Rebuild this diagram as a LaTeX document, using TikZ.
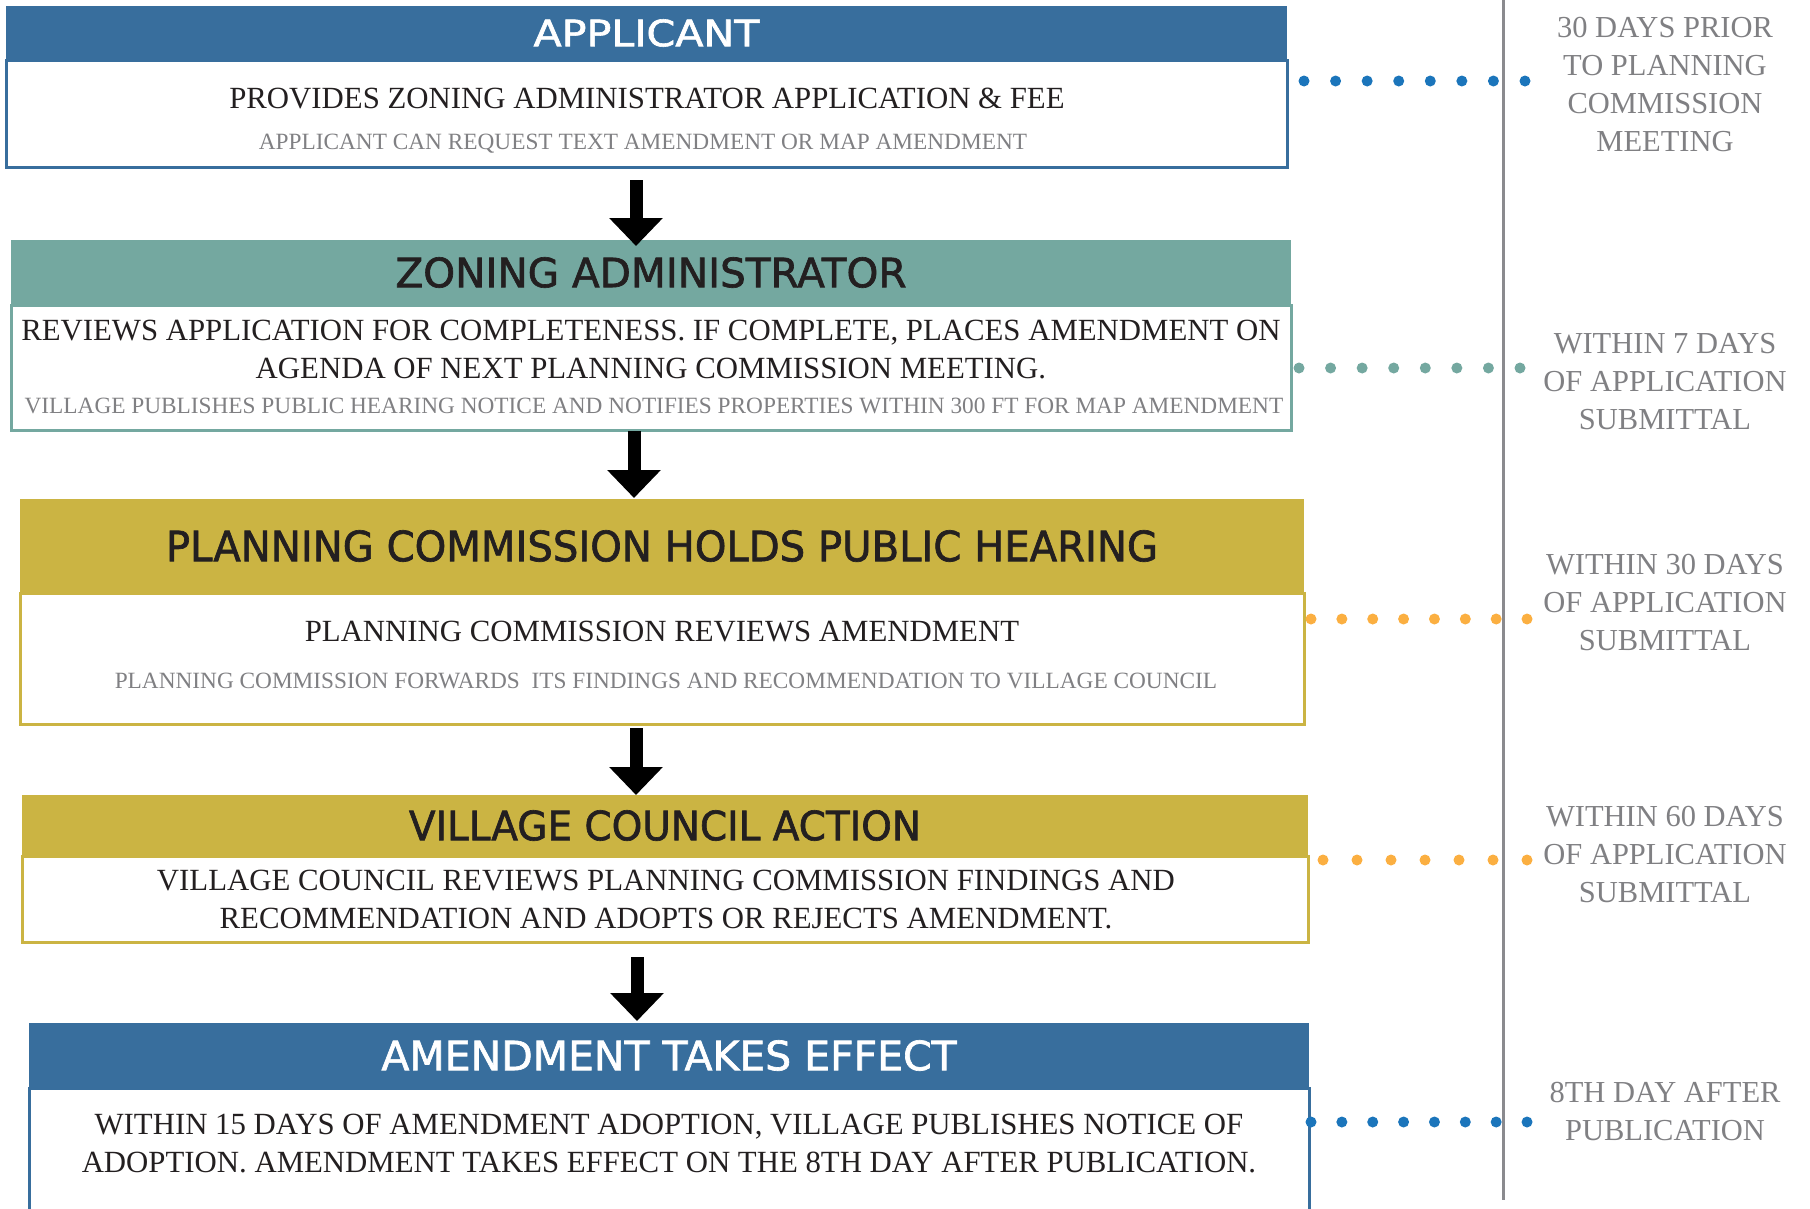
\documentclass[tikz,border=0pt]{standalone}
\usepackage{fontspec}
\setmainfont{Liberation Serif}
\newfontfamily\hdrfont[FakeBold=1.6]{DejaVu Sans}
\usetikzlibrary{arrows.meta,calc}
\definecolor{hblue}{HTML}{386E9D}
\definecolor{hteal}{HTML}{74A8A0}
\definecolor{hgold}{HTML}{CBB443}
\definecolor{dblue}{HTML}{1B75BB}
\definecolor{dorange}{HTML}{FBAF41}
\definecolor{txtdark}{HTML}{231F20}
\definecolor{txtgray}{HTML}{808083}
\definecolor{tlgray}{HTML}{8A8A8E}
\begin{document}
\begin{tikzpicture}[x=1pt,y=-1pt,
  hdrbox/.style={inner sep=0pt, outer sep=0pt, anchor=north west},
  bodybox/.style={draw, line width=3pt, fill=white, inner sep=0pt, outer sep=0pt, anchor=north west},
  maintext/.style={font=\fontsize{30.8}{38}\selectfont, text=txtdark, inner sep=0pt, align=center, text depth=0pt},
  subtext/.style={font=\fontsize{23.3}{28}\selectfont, text=txtgray, inner sep=0pt, text depth=0pt},
  sidetext/.style={font=\fontsize{30.5}{38}\selectfont, text=txtgray, inner sep=0pt, align=center, text depth=0pt},
  bigarrow/.style={line width=13pt, -{Triangle[width=52pt,length=28pt]}},
  dotrow/.style={line width=11pt, line cap=round, dash pattern=on 0pt off #1},
  timeline/.style={draw=tlgray, line width=3pt}
]
\useasboundingbox (0,0) rectangle (1810,1208);
\clip (0,0) rectangle (1810,1208);

% timeline
\coordinate (tltop) at (1503,0);
\coordinate (tlbot) at (1503,1200);
\draw[timeline] (tltop) -- (tlbot);

% APPLICANT
\node[bodybox, draw=hblue, minimum width=1281pt, minimum height=107pt] (appbody) at (6,60) {};
\node[hdrbox, fill=hblue, minimum width=1281pt, minimum height=54pt, text=white] (apphead) at (6,6) {\resizebox{226pt}{27pt}{\hdrfont APPLICANT}};
\node[maintext] (apptxt) at (647,98) {PROVIDES ZONING ADMINISTRATOR APPLICATION \& FEE};
\node[subtext] (appsub) at (643,142) {APPLICANT CAN REQUEST TEXT AMENDMENT OR MAP AMENDMENT};

% ZONING ADMINISTRATOR
\node[bodybox, draw=hteal, minimum width=1280pt, minimum height=125pt] (zonbody) at (11,305) {};
\node[hdrbox, fill=hteal, minimum width=1280pt, minimum height=65pt, text=txtdark] (zonhead) at (11,240) {\resizebox{511pt}{30pt}{\hdrfont ZONING ADMINISTRATOR}};
\node[maintext] (zontxt) at (651,349.5) {REVIEWS APPLICATION FOR COMPLETENESS. IF COMPLETE, PLACES AMENDMENT ON\\AGENDA OF NEXT PLANNING COMMISSION MEETING.};
\node[subtext] (zonsub) at (654,406) {VILLAGE PUBLISHES PUBLIC HEARING NOTICE AND NOTIFIES PROPERTIES WITHIN 300 FT FOR MAP AMENDMENT};

% PLANNING COMMISSION
\node[bodybox, draw=hgold, minimum width=1284pt, minimum height=131pt] (planbody) at (20,593) {};
\node[hdrbox, fill=hgold, minimum width=1284pt, minimum height=94pt, text=txtdark] (planhead) at (20,499) {\resizebox{992pt}{31pt}{\hdrfont PLANNING COMMISSION HOLDS PUBLIC HEARING}};
\node[maintext] (plantxt) at (662,631) {PLANNING COMMISSION REVIEWS AMENDMENT};
\node[subtext] (plansub) at (666,681) {PLANNING COMMISSION FORWARDS~ ITS FINDINGS AND RECOMMENDATION TO VILLAGE COUNCIL};

% VILLAGE COUNCIL
\node[bodybox, draw=hgold, minimum width=1286pt, minimum height=86pt] (villbody) at (22,856) {};
\node[hdrbox, fill=hgold, minimum width=1286pt, minimum height=61pt, text=txtdark] (villhead) at (22,795) {\resizebox{512pt}{30pt}{\hdrfont VILLAGE COUNCIL ACTION}};
\node[maintext] (villtxt) at (666,899) {VILLAGE COUNCIL REVIEWS PLANNING COMMISSION FINDINGS AND\\RECOMMENDATION AND ADOPTS OR REJECTS AMENDMENT.};

% AMENDMENT TAKES EFFECT
\node[bodybox, draw=hblue, minimum width=1280pt, minimum height=160pt] (amendbody) at (29,1088) {};
\node[hdrbox, fill=hblue, minimum width=1280pt, minimum height=65pt, text=white] (amendhead) at (29,1023) {\resizebox{575pt}{30pt}{\hdrfont AMENDMENT TAKES EFFECT}};
\node[maintext] (amendtxt) at (669,1143) {WITHIN 15 DAYS OF AMENDMENT ADOPTION, VILLAGE PUBLISHES NOTICE OF\\ADOPTION. AMENDMENT TAKES EFFECT ON THE 8TH DAY AFTER PUBLICATION.};

% arrows
\draw[bigarrow] ($(appbody.south)+(-10.5,13)$) -- ($(zonhead.north)+(-15,6)$);
\draw[bigarrow] ($(zonbody.south)+(-17,1)$) -- ($(planhead.north)+(-28,-1)$);
\draw[bigarrow] ($(planbody.south)+(-26,4)$) -- ($(villhead.north)+(-29,0)$);
\draw[bigarrow] ($(villbody.south)+(-28,15)$) -- ($(amendhead.north)+(-32,-2)$);

% dotted leaders
\coordinate (e1) at (1525,81);
\coordinate (e2) at (1520,368);
\coordinate (e3) at (1527,619);
\coordinate (e4) at (1527,860);
\coordinate (e5) at (1527,1122);
\draw[dotrow=31.57pt, draw=dblue] ($(appbody.east |- e1)+(17,0)$) -- ($(e1)+(0.8,0)$);
\draw[dotrow=31.57pt, draw=hteal] ($(zonbody.east |- e2)+(8,0)$) -- ($(e2)+(0.8,0)$);
\draw[dotrow=30.86pt, draw=dorange] ($(planbody.east |- e3)+(7,0)$) -- ($(e3)+(0.8,0)$);
\draw[dotrow=34pt, draw=dorange] ($(villbody.east |- e4)+(15,0)$) -- ($(e4)+(0.8,0)$);
\draw[dotrow=30.86pt, draw=dblue] ($(amendbody.east |- e5)+(2,0)$) -- ($(e5)+(0.8,0)$);

% side texts
\node[sidetext] (side1) at (1665,84) {30 DAYS PRIOR\\TO PLANNING\\COMMISSION\\MEETING};
\node[sidetext] (side2) at (1665,381) {WITHIN 7 DAYS\\OF APPLICATION\\SUBMITTAL};
\node[sidetext] (side3) at (1665,602.5) {WITHIN 30 DAYS\\OF APPLICATION\\SUBMITTAL};
\node[sidetext] (side4) at (1665,854.5) {WITHIN 60 DAYS\\OF APPLICATION\\SUBMITTAL};
\node[sidetext] (side5) at (1665,1111.5) {8TH DAY AFTER\\PUBLICATION};
\end{tikzpicture}
\end{document}
